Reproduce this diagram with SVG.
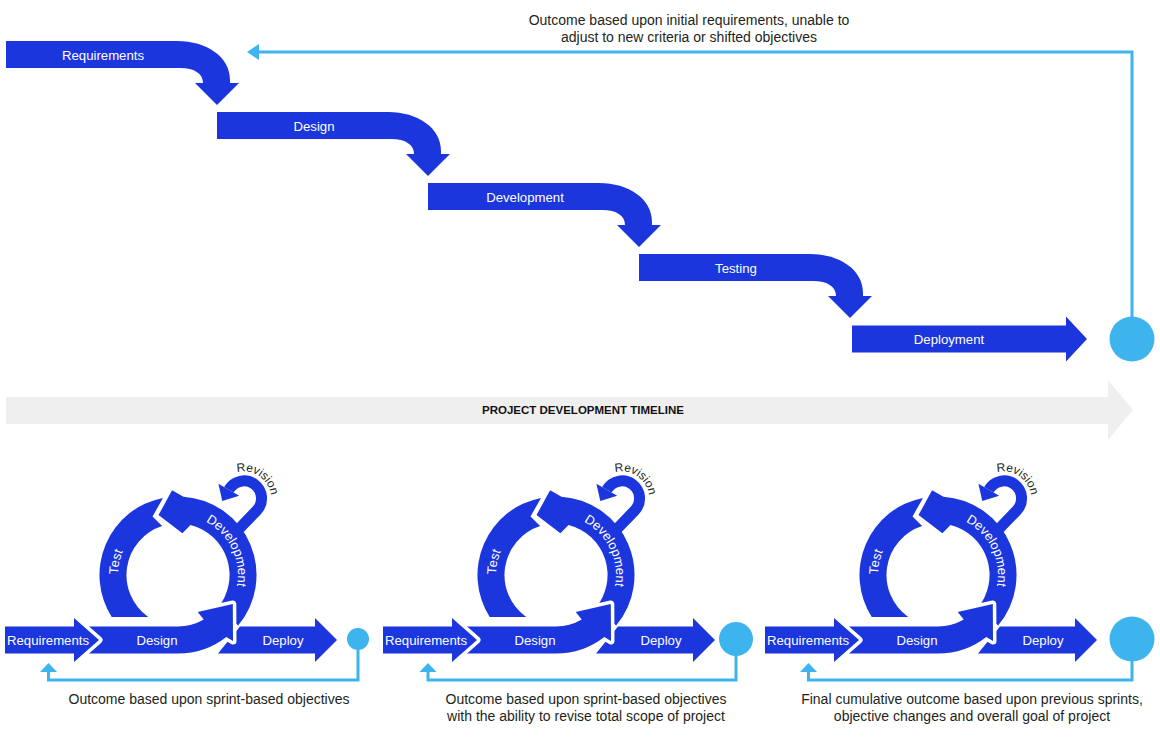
<svg xmlns="http://www.w3.org/2000/svg" xmlns:xlink="http://www.w3.org/1999/xlink" width="1160" height="741" viewBox="0 0 1160 741">
<style>
.b{fill:#1b36dc}
.bw{fill:#1b36dc;stroke:#fff;stroke-width:7;paint-order:stroke;stroke-linejoin:round}
.lb{fill:#3db4ee}
.ln{fill:none;stroke:#3db4ee;stroke-width:3}
.t{font-family:"Liberation Sans",Arial,sans-serif;font-size:13.2px;fill:#fff;text-anchor:middle}
.r{font-family:"Liberation Sans",Arial,sans-serif;font-size:13px;fill:#fff;text-anchor:middle}
.d{font-family:"Liberation Sans",Arial,sans-serif;font-size:14px;fill:#231f20;text-anchor:middle}
.rv{font-family:"Liberation Sans",Arial,sans-serif;font-size:12px;fill:#231f20}
</style>
<defs>
<path id="step" d="M6,41 H177 C207,41 230,57 230,80 V83 H239 L217,105 L195,83 H203 C203,74 195,68 180,68 H6 Z"/>
<path id="arcTest" d="M134.84,616.68 A60,60 0 0 1 155.52,519.37"/>
<path id="arcDev" d="M182.19,515.15 A60,60 0 0 1 227.74,608.55"/>
<path id="arcRev" d="M237.01,472.42 A27,27 0 0 1 268.47,509.91"/>
</defs>
<rect width="1160" height="741" fill="#fff"/>

<g id="connectors">
<path class="ln" d="M1132,317 V52 H258"/>
<polygon class="lb" points="259,44 259,60 247,52"/>
<path class="ln" d="M358,650 V680 H48.5 V670"/>
<polygon class="lb" points="40,672 57,672 48.5,663"/>
<path class="ln" d="M736,655 V680 H428 V670"/>
<polygon class="lb" points="419.5,672 436.5,672 428,663"/>
<path class="ln" d="M1132,661 V680 H808.5 V670"/>
<polygon class="lb" points="800,672 817,672 808.5,663"/>
</g>

<g id="outcome-top">
<text class="d" x="689" y="24.5">Outcome based upon initial requirements, unable to</text>
<text class="d" x="689" y="41.5">adjust to new criteria or shifted objectives</text>
</g>

<g id="wf-requirements"><use xlink:href="#step" class="b"/><text class="t" x="103" y="59.6">Requirements</text></g>
<g id="wf-design"><use xlink:href="#step" class="b" transform="translate(211,71)"/><text class="t" x="314" y="130.6">Design</text></g>
<g id="wf-development"><use xlink:href="#step" class="b" transform="translate(422,142)"/><text class="t" x="525" y="201.6">Development</text></g>
<g id="wf-testing"><use xlink:href="#step" class="b" transform="translate(633,213)"/><text class="t" x="736" y="272.6">Testing</text></g>
<g id="wf-deployment"><path class="b" d="M852,325.5 H1066 V316.5 L1087,339 L1066,361.5 V352.5 H852 Z"/><text class="t" x="949" y="343.6">Deployment</text></g>
<g id="wf-outcome"><circle class="lb" cx="1132" cy="339" r="22.5"/></g>

<g id="timeline">
<path d="M6,397 H1108 V380 L1133,410 L1108,440 V424 H6 Z" fill="#efefef"/>
<text x="583" y="414" font-family="'Liberation Sans',Arial,sans-serif" font-size="11.5" font-weight="bold" fill="#111" text-anchor="middle">PROJECT DEVELOPMENT TIMELINE</text>
</g>

<g id="sprint1">
<g id="s1-test"><path class="b" d="M163,497.9 A78.5,78.5 0 0 0 111.7,617 H148.2 A51.5,51.5 0 0 1 162.1,526 L152.5,516.5 Z"/></g>
<g id="s1-revision"><path d="M236,532 L256.6,510.6 A17.5,17.5 0 1 0 228.84,489.75" fill="none" stroke="#1b36dc" stroke-width="11"/><polygon class="b" points="218.4,483.75 239.2,495.75 222.3,501"/></g>
<g id="s1-development"><path class="b" d="M238.1,625.5 A78.5,78.5 0 0 0 183.5,496.7 L172.1,490.2 L158.5,515.1 L182.4,533.2 L190.5,525 A51.5,51.5 0 0 1 217.5,608.1 Z"/></g>
<g id="s1-deploy"><path class="b" d="M218,653.5 L240,626.5 H315 V618 L337,640 L315,662 V653.5 Z"/></g>
<g id="s1-design"><path class="bw" d="M78,626.5 H178 A51.5,51.5 0 0 0 203.75,619.6 L197.7,612 L232.8,604 L233,641 L226.3,636.9 A78.5,78.5 0 0 1 178,653.5 H78 Z"/></g>
<g id="s1-requirements"><path class="bw" d="M5,626.5 H74 V618 L99,640 L74,662 V653.5 H5 Z"/></g>
<text class="t" x="48" y="644.6">Requirements</text>
<text class="t" x="157" y="644.6">Design</text>
<text class="t" x="283" y="644.6">Deploy</text>
<text class="r"><textPath xlink:href="#arcTest" startOffset="50%">Test</textPath></text>
<text class="r"><textPath xlink:href="#arcDev" startOffset="50%">Development</textPath></text>
<text class="rv"><textPath xlink:href="#arcRev">Revision</textPath></text>
<circle class="lb" cx="358" cy="639" r="11"/>
<text class="d" x="209" y="703.8">Outcome based upon sprint-based objectives</text>
</g>

<g id="sprint2">
<g transform="translate(378,0)">
<g id="s2-test"><path class="b" d="M163,497.9 A78.5,78.5 0 0 0 111.7,617 H148.2 A51.5,51.5 0 0 1 162.1,526 L152.5,516.5 Z"/></g>
<g id="s2-revision"><path d="M236,532 L256.6,510.6 A17.5,17.5 0 1 0 228.84,489.75" fill="none" stroke="#1b36dc" stroke-width="11"/><polygon class="b" points="218.4,483.75 239.2,495.75 222.3,501"/></g>
<g id="s2-development"><path class="b" d="M238.1,625.5 A78.5,78.5 0 0 0 183.5,496.7 L172.1,490.2 L158.5,515.1 L182.4,533.2 L190.5,525 A51.5,51.5 0 0 1 217.5,608.1 Z"/></g>
<g id="s2-deploy"><path class="b" d="M218,653.5 L240,626.5 H315 V618 L337,640 L315,662 V653.5 Z"/></g>
<g id="s2-design"><path class="bw" d="M78,626.5 H178 A51.5,51.5 0 0 0 203.75,619.6 L197.7,612 L232.8,604 L233,641 L226.3,636.9 A78.5,78.5 0 0 1 178,653.5 H78 Z"/></g>
<g id="s2-requirements"><path class="bw" d="M5,626.5 H74 V618 L99,640 L74,662 V653.5 H5 Z"/></g>
<text class="t" x="48" y="644.6">Requirements</text>
<text class="t" x="157" y="644.6">Design</text>
<text class="t" x="283" y="644.6">Deploy</text>
<text class="r"><textPath xlink:href="#arcTest" startOffset="50%">Test</textPath></text>
<text class="r"><textPath xlink:href="#arcDev" startOffset="50%">Development</textPath></text>
<text class="rv"><textPath xlink:href="#arcRev">Revision</textPath></text>
</g>
<circle class="lb" cx="736" cy="639" r="17"/>
<text class="d" x="586" y="703.8">Outcome based upon sprint-based objectives</text>
<text class="d" x="586" y="720.5">with the ability to revise total scope of project</text>
</g>

<g id="sprint3">
<g transform="translate(760,0)">
<g id="s3-test"><path class="b" d="M163,497.9 A78.5,78.5 0 0 0 111.7,617 H148.2 A51.5,51.5 0 0 1 162.1,526 L152.5,516.5 Z"/></g>
<g id="s3-revision"><path d="M236,532 L256.6,510.6 A17.5,17.5 0 1 0 228.84,489.75" fill="none" stroke="#1b36dc" stroke-width="11"/><polygon class="b" points="218.4,483.75 239.2,495.75 222.3,501"/></g>
<g id="s3-development"><path class="b" d="M238.1,625.5 A78.5,78.5 0 0 0 183.5,496.7 L172.1,490.2 L158.5,515.1 L182.4,533.2 L190.5,525 A51.5,51.5 0 0 1 217.5,608.1 Z"/></g>
<g id="s3-deploy"><path class="b" d="M218,653.5 L240,626.5 H315 V618 L337,640 L315,662 V653.5 Z"/></g>
<g id="s3-design"><path class="bw" d="M78,626.5 H178 A51.5,51.5 0 0 0 203.75,619.6 L197.7,612 L232.8,604 L233,641 L226.3,636.9 A78.5,78.5 0 0 1 178,653.5 H78 Z"/></g>
<g id="s3-requirements"><path class="bw" d="M5,626.5 H74 V618 L99,640 L74,662 V653.5 H5 Z"/></g>
<text class="t" x="48" y="644.6">Requirements</text>
<text class="t" x="157" y="644.6">Design</text>
<text class="t" x="283" y="644.6">Deploy</text>
<text class="r"><textPath xlink:href="#arcTest" startOffset="50%">Test</textPath></text>
<text class="r"><textPath xlink:href="#arcDev" startOffset="50%">Development</textPath></text>
<text class="rv"><textPath xlink:href="#arcRev">Revision</textPath></text>
</g>
<circle class="lb" cx="1132" cy="639" r="22.5"/>
<text class="d" x="972" y="703.8">Final cumulative outcome based upon previous sprints,</text>
<text class="d" x="972" y="720.5">objective changes and overall goal of project</text>
</g>
</svg>
